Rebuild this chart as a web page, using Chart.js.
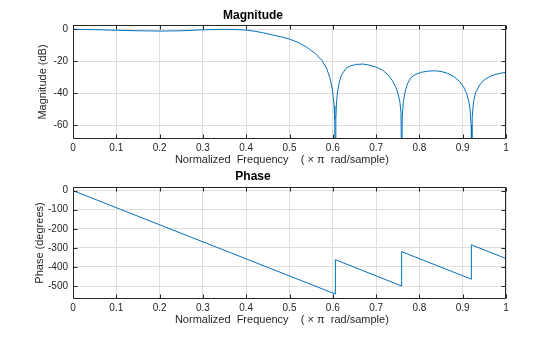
<!DOCTYPE html>
<html>
<head>
<meta charset="utf-8">
<script src="https://cdn.jsdelivr.net/npm/chart.js@4.4.0/dist/chart.umd.min.js"></script>
<style>
  body { margin: 0; background: #fff; }
  #wrap { position: relative; width: 560px; height: 337px; }
  canvas { position: absolute; left: 0; }
</style>
</head>
<body>
<div id="wrap">
  <canvas id="mag" width="560" height="170" style="top:0"></canvas>
  <canvas id="phase" width="560" height="172" style="top:165px"></canvas>
</div>
<script>
// tick labels
const freqTicks = [0, 0.1, 0.2, 0.3, 0.4, 0.5, 0.6, 0.7, 0.8, 0.9, 1];
const magTicks = [-60, -40, -20, 0];
const phaseTicks = [-500, -400, -300, -200, -100, 0];

// magnitude response (dB)
const magFreq = [0, 0.05, 0.1, 0.15, 0.2, 0.25, 0.3, 0.35, 0.38, 0.4, 0.42, 0.44, 0.46, 0.48, 0.5,
  0.52, 0.54, 0.56, 0.575, 0.585, 0.593, 0.598, 0.601, 0.603, 0.6045, 0.6058, 0.607, 0.6085, 0.611,
  0.615, 0.62, 0.63, 0.64, 0.655, 0.67, 0.685, 0.7, 0.715, 0.727, 0.737, 0.745, 0.751, 0.755, 0.7575,
  0.759, 0.7605, 0.763, 0.767, 0.772, 0.78, 0.79, 0.805, 0.82, 0.835, 0.85, 0.865, 0.88, 0.893,
  0.902, 0.909, 0.914, 0.917, 0.9195, 0.9208, 0.922, 0.925, 0.93, 0.939, 0.95, 0.962, 0.975, 0.99, 1];
const magDb = [0, -0.2, -0.6, -0.9, -1.1, -0.9, -0.3, 0.0, -0.2, -0.5, -1.2, -2.2, -3.5, -4.6, -6.1,
  -8.2, -11.2, -15.2, -19.5, -24, -30, -36, -42, -48, -56, -90, -56, -46, -39,
  -33, -28.6, -24.5, -22.9, -21.9, -21.7, -22.4, -23.6, -25.5, -28.3, -31.8, -35.8, -40.5, -45.5, -52,
  -90, -54, -45, -39, -34.2, -30.3, -28.3, -26.8, -26.1, -25.9, -26.3, -27.5, -29.6, -32.6,
  -36, -40, -45, -50, -60, -90, -55, -45, -39.5, -34.8, -31.5, -29.6, -28.2, -27.3, -26.9];

// phase response (degrees)
const phaseFreq = [0, 0.606, 0.606, 0.759, 0.759, 0.92, 0.92, 1];
const phaseDeg = [0, -542, -362, -500, -320, -464, -284, -356];

const LINE = '#0072BD';
const AXIS = '#262626';
const GRID = '#dedede';
const FONT = 'Liberation Sans, Arial, Helvetica, sans-serif';

const frame = {
  id: 'frame',
  afterDraw(chart) {
    const { ctx, chartArea: a, scales } = chart;
    const L = Math.round(a.left) + 0.5, R = Math.round(a.right) - 0.5;
    const T = Math.round(a.top) + 0.5, B = Math.round(a.bottom) - 0.5;
    ctx.save();
    ctx.strokeStyle = AXIS;
    ctx.lineWidth = 1;
    ctx.beginPath();
    ctx.rect(L, T, R - L, B - T);
    scales.x.ticks.forEach(t => {
      const px = Math.round(scales.x.getPixelForValue(t.value)) + 0.5;
      ctx.moveTo(px, B); ctx.lineTo(px, B - 4);
      ctx.moveTo(px, T); ctx.lineTo(px, T + 4);
    });
    scales.y.ticks.forEach(t => {
      const py = Math.round(scales.y.getPixelForValue(t.value)) + 0.5;
      ctx.moveTo(L, py); ctx.lineTo(L + 4, py);
      ctx.moveTo(R, py); ctx.lineTo(R - 4, py);
    });
    ctx.stroke();
    ctx.restore();
  }
};

function makeChart(id, opts) {
  const points = opts.xs.map((x, i) => ({ x: x, y: opts.ys[i] }));
  return new Chart(document.getElementById(id), {
    type: 'line',
    data: {
      datasets: [{
        data: points,
        borderColor: LINE,
        borderWidth: 1,
        pointRadius: 0,
        tension: 0,
        fill: false
      }]
    },
    options: {
      responsive: false,
      animation: false,
      layout: { padding: { left: 0, right: 54, top: 0, bottom: 0 } },
      plugins: {
        legend: { display: false },
        tooltip: { enabled: false },
        title: {
          display: true,
          text: opts.title,
          color: '#000',
          font: { family: FONT, size: 12, weight: 'bold' },
          padding: opts.titlePad
        }
      },
      scales: {
        x: {
          type: 'linear',
          min: 0,
          max: 1,
          afterBuildTicks: s => { s.ticks = freqTicks.map(v => ({ value: v })); },
          afterFit: s => { s.height = opts.xHeight; },
          grid: { color: GRID, drawTicks: false },
          border: { display: false },
          ticks: {
            color: AXIS,
            padding: 3,
            maxRotation: 0,
            font: { family: FONT, size: 10 },
            callback: v => String(v)
          },
          title: {
            display: true,
            // trailing blanks keep the label a little left of centre, as in the original
            text: 'Normalized  Frequency    ( \u00d7 \u03c0  rad/sample)     ',
            color: AXIS,
            font: { family: FONT, size: 11 },
            padding: { top: 0, bottom: opts.xTitleBottom }
          }
        },
        y: {
          type: 'linear',
          min: opts.yMin,
          max: opts.yMax,
          afterBuildTicks: s => { s.ticks = opts.yTicks.map(v => ({ value: v })); },
          afterFit: s => { s.width = 73; },
          grid: { color: GRID, drawTicks: false },
          border: { display: false },
          ticks: {
            color: AXIS,
            padding: 5,
            font: { family: FONT, size: 10 },
            callback: v => String(v)
          },
          title: {
            display: true,
            text: opts.yLabel,
            color: AXIS,
            font: { family: FONT, size: 11 },
            padding: { top: opts.yTitleTop, bottom: 0 }
          }
        }
      }
    },
    plugins: [frame]
  });
}

makeChart('mag', {
  xs: magFreq, ys: magDb,
  title: 'Magnitude',
  titlePad: { top: 8.3, bottom: 2.3 },
  xHeight: 31, xTitleBottom: 3.4,
  yMin: -68.5, yMax: 2.7, yTicks: magTicks,
  yLabel: 'Magnitude (dB)', yTitleTop: 36
});

makeChart('phase', {
  xs: phaseFreq, ys: phaseDeg,
  title: 'Phase',
  titlePad: { top: 4.5, bottom: 3.1 },
  xHeight: 38, xTitleBottom: 10.4,
  yMin: -568, yMax: 19, yTicks: phaseTicks,
  yLabel: 'Phase (degrees)', yTitleTop: 33
});
</script>
</body>
</html>
